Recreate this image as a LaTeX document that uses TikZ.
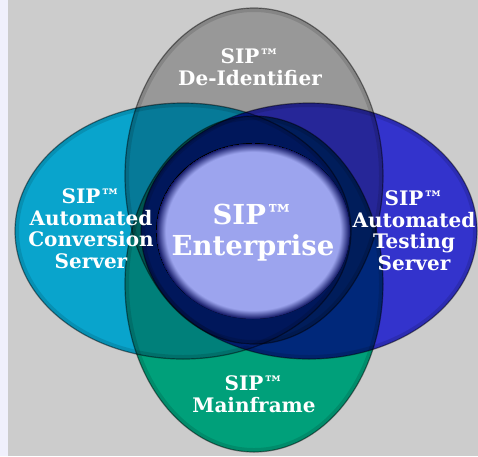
\documentclass[tikz,border=0pt]{standalone}
\usepackage{fontspec}
\newfontfamily\sipfont{DejaVu Serif}
\usepackage{xcolor}
\usetikzlibrary{positioning}
\definecolor{bggray}{RGB}{204,204,204}
\definecolor{sidestrip}{RGB}{240,240,252}
\definecolor{convcyan}{RGB}{12,206,255}
\definecolor{testblue}{RGB}{64,64,255}
\definecolor{deidgray}{RGB}{191,191,191}
\definecolor{mfgreen}{RGB}{0,200,153}
\definecolor{entlav}{RGB}{156,164,238}
\definecolor{entrim}{RGB}{12,18,96}
\pgfdeclareradialshading{entshade}{\pgfpoint{0bp}{0bp}}{color(0bp)=(entlav); color(22.5bp)=(entlav); color(25bp)=(entrim)}
\tikzset{%
	rim/.style={line width=1.2,draw=black,draw opacity=0.45},
	softrim/.style={line width=4,draw=black,draw opacity=0.12},
	lbl/.style={text=white,font=\sipfont\bfseries\fontsize{20}{21.5}\selectfont,align=center,anchor=base,inner sep=0},
	biglbl/.style={lbl,font=\sipfont\bfseries\fontsize{27.5}{31}\selectfont},
}
\begin{document}
\begin{tikzpicture}[x=1pt,y=-1pt]
	\useasboundingbox (0,0) rectangle (478,456);
	\fill[sidestrip] (0,0) rectangle (8,456);
	\fill[bggray] (8,0) rectangle (478,456);
	
	% four ellipses, overlaps darken
	\begin{scope}[blend mode=multiply]
		\fill[convcyan] (183,231) ellipse [x radius=168,y radius=128];
		\fill[testblue] (309,231) ellipse [x radius=168,y radius=128];
		\fill[deidgray] (254,176) ellipse [x radius=129,y radius=168];
		\fill[mfgreen] (254,284) ellipse [x radius=129,y radius=168];
	\end{scope}
	\draw[softrim] (183,231) ellipse [x radius=166,y radius=126];
	\draw[softrim] (309,231) ellipse [x radius=166,y radius=126];
	\draw[softrim] (254,176) ellipse [x radius=127,y radius=166];
	\draw[softrim] (254,284) ellipse [x radius=127,y radius=166];
	\draw[rim] (183,231) ellipse [x radius=168,y radius=128];
	\draw[rim] (309,231) ellipse [x radius=168,y radius=128];
	\draw[rim] (254,176) ellipse [x radius=129,y radius=168];
	\draw[rim] (254,284) ellipse [x radius=129,y radius=168];
	
	\fill[shading=entshade] (253,231) ellipse [x radius=97,y radius=88];
	
	% labels (base = last line)
	\node (deid) at (250,85) [lbl] {SIP™\\De-Identifier};
	\node (conv) at (91,268) [lbl] {SIP™\\Automated\\Conversion\\Server};
	\node (test) at (414,270) [lbl] {SIP™\\Automated\\Testing\\Server};
	\node (mainf) at (254,412) [lbl] {SIP™\\Mainframe};
	\node (ent) at (253,255) [biglbl] {SIP™\\Enterprise};
\end{tikzpicture}
\end{document}
